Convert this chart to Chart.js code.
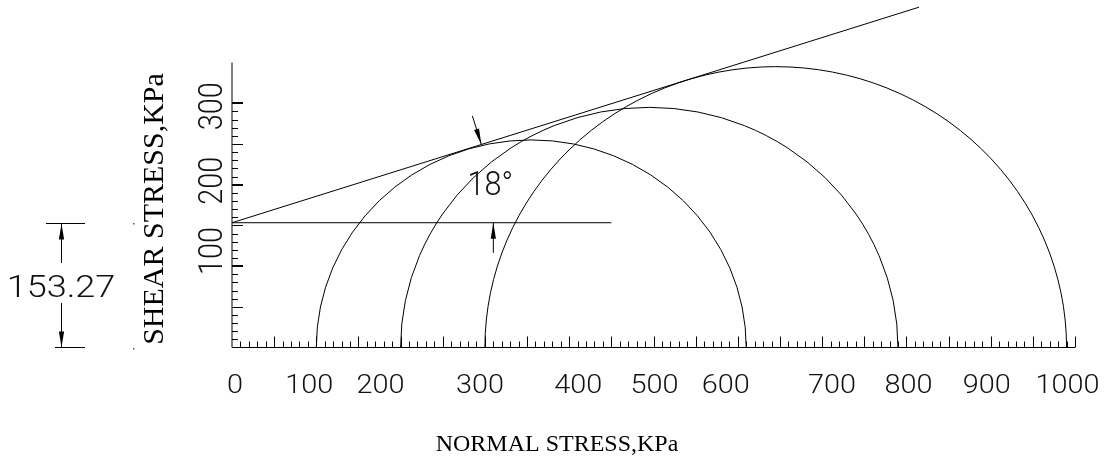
<!DOCTYPE html>
<html>
<head>
<meta charset="utf-8">
<script src="https://cdn.jsdelivr.net/npm/chart.js@4/dist/chart.umd.min.js"></script>
<style>
  html, body { margin: 0; padding: 0; background: #fff; }
  canvas { display: block; }
</style>
</head>
<body>
<canvas id="mohr" width="1110" height="463"></canvas>
<script>
// Triaxial test results: minor and major principal stresses (kPa)
const sigma3 = [100, 200, 300];
const sigma1 = [610, 790, 990];

// Mohr–Coulomb failure envelope
const cohesion = 153.27;      // kPa
const frictionDeg = 18;       // degrees
const envelopeEnd = 815;      // normal stress where the envelope line stops
const baseLineEnd = 450;      // end of the horizontal line drawn at the cohesion level
const angleArcRadius = 310;   // radius of the angle dimension, in normal-stress units

// Axes
const xTickValues = [0, 100, 200, 300, 400, 500, 600, 700, 800, 900, 1000];
const xTickLabels = ['0', '100', '200', '300', '400', '500', '600', '700', '800', '900', '1000'];
const yTickValues = [100, 200, 300];
const yTickLabels = ['100', '200', '300'];
const xAxisMax = 1000;
const yAxisMax = 350;
const yTickMax = 300;
const xTitle = 'NORMAL STRESS,KPa';
const yTitle = 'SHEAR STRESS,KPa';

// Drawing layout (pixels)
const layout = {
  axisLabelY: 384,          // centre line of the normal-stress labels
  xLabelNudge: [3, -7, -20, -5, 9, 1, -12, 10, 2, -4, -7.5],
  yLabelX: 210,             // centre line of the shear-stress labels
  yLabelNudge: [-15, -4, 3],
  minorTick: 6,
  majorTick: 11,
  dimLineX: 61,
  dimExtTop: [46, 85],
  dimExtBottom: [55, 85],
  dimTextCentreY: 286,
  dimGap: [263, 303],
  dotX: 133,
  yTitleBaselineX: 163,
  yTitleCentreY: 209,
  xTitleBaselineY: 451,
  xTitleCentreX: 557
};

const tanPhi = Math.tan(frictionDeg * Math.PI / 180);
const CAD_FONT = 'Roboto, "DejaVu Sans", sans-serif';
const SERIF = '"Liberation Serif", "Times New Roman", serif';

// Thin CAD-style text, sized by digit height and per-character advance
function cadText(ctx, str, cx, cy, h, adv, rot) {
  const size = h / 0.711;
  ctx.save();
  ctx.font = `300 ${size}px ${CAD_FONT}`;
  const sx = adv / ctx.measureText('0').width;
  ctx.translate(cx, cy);
  ctx.rotate(rot);
  ctx.scale(sx, 1);
  ctx.textAlign = 'center';
  ctx.textBaseline = 'alphabetic';
  ctx.fillStyle = '#111';
  ctx.fillText(str, 0, h / 2);
  ctx.restore();
}

// Line with a filled arrowhead at the tip
function arrow(ctx, tailX, tailY, tipX, tipY, headLen, headHalf) {
  const dx = tipX - tailX, dy = tipY - tailY;
  const len = Math.hypot(dx, dy);
  const ux = dx / len, uy = dy / len;
  ctx.beginPath();
  ctx.moveTo(tailX, tailY);
  ctx.lineTo(tipX, tipY);
  ctx.stroke();
  const bx = tipX - ux * headLen, by = tipY - uy * headLen;
  ctx.beginPath();
  ctx.moveTo(tipX, tipY);
  ctx.lineTo(bx - uy * headHalf, by + ux * headHalf);
  ctx.lineTo(bx + uy * headHalf, by - ux * headHalf);
  ctx.closePath();
  ctx.fill();
}

const mohrDrawing = {
  id: 'mohrDrawing',
  afterDatasetsDraw(chart) {
    const ctx = chart.ctx;
    const xs = chart.scales.x, ys = chart.scales.y;
    const px = v => xs.getPixelForValue(v);
    const py = v => ys.getPixelForValue(v);
    const x0 = px(0), y0 = py(0);

    ctx.save();
    ctx.strokeStyle = '#000';
    ctx.fillStyle = '#000';
    ctx.lineWidth = 1;

    // Mohr circles (upper halves)
    sigma3.forEach((s3, i) => {
      const s1 = sigma1[i];
      const c = (s1 + s3) / 2, r = (s1 - s3) / 2;
      const cx = px(c);
      const rx = px(c + r) - cx;
      const ry = y0 - py(r);
      ctx.beginPath();
      ctx.ellipse(cx, y0, rx, ry, 0, Math.PI, 2 * Math.PI);
      ctx.stroke();
    });

    // Axis lines
    const yAxisX = Math.round(x0);
    ctx.beginPath();
    ctx.moveTo(yAxisX, y0);
    ctx.lineTo(yAxisX, py(yAxisMax));
    ctx.stroke();
    ctx.beginPath();
    ctx.moveTo(x0, y0);
    ctx.lineTo(px(xAxisMax), y0);
    ctx.stroke();

    // Ticks on the normal-stress axis (every 10, long every 50)
    for (let v = 10; v <= xAxisMax; v += 10) {
      const x = Math.round(px(v)) + 0.5;
      const len = v % 50 === 0 ? layout.majorTick : layout.minorTick;
      ctx.beginPath();
      ctx.moveTo(x, y0);
      ctx.lineTo(x, y0 - len);
      ctx.stroke();
    }
    // Ticks on the shear-stress axis
    for (let v = 10; v <= yTickMax; v += 10) {
      const len = v % 50 === 0 ? layout.majorTick : layout.minorTick;
      ctx.lineWidth = v % 100 === 0 ? 2 : 1;
      const y = v % 100 === 0 ? Math.round(py(v)) : Math.round(py(v)) + 0.5;
      ctx.beginPath();
      ctx.moveTo(yAxisX, y);
      ctx.lineTo(yAxisX + len, y);
      ctx.stroke();
    }
    ctx.lineWidth = 1;

    // Tick labels
    xTickValues.forEach((v, i) => {
      cadText(ctx, xTickLabels[i], px(v) + layout.xLabelNudge[i], layout.axisLabelY, 18, 16, 0);
    });
    yTickValues.forEach((v, i) => {
      cadText(ctx, yTickLabels[i], layout.yLabelX, py(v) + layout.yLabelNudge[i], 23, 16, -Math.PI / 2);
    });

    // Angle dimension between the horizontal line and the envelope
    const vy = py(cohesion);
    const R = px(angleArcRadius) - x0;
    const ex = px(envelopeEnd) - x0;
    const ey = py(cohesion + envelopeEnd * tanPhi) - vy;
    const theta = Math.atan2(-ey, ex);
    const L = 30;
    // lower arrow, onto the horizontal line
    const t0x = x0 + R, t0y = vy;
    arrow(ctx, t0x, t0y + L, t0x, t0y, 16, 2.6);
    // upper arrow, onto the envelope
    const t1x = x0 + R * Math.cos(theta), t1y = vy - R * Math.sin(theta);
    arrow(ctx, t1x - L * Math.sin(theta), t1y - L * Math.cos(theta), t1x, t1y, 16, 2.6);
    const mid = theta / 2;
    cadText(ctx, frictionDeg + '°', x0 + R * Math.cos(mid), vy - R * Math.sin(mid), 23, 17, 0);

    // Cohesion dimension at the left
    ctx.beginPath();
    ctx.moveTo(layout.dimExtTop[0], Math.round(vy) + 0.5);
    ctx.lineTo(layout.dimExtTop[1], Math.round(vy) + 0.5);
    ctx.moveTo(layout.dimExtBottom[0], y0);
    ctx.lineTo(layout.dimExtBottom[1], y0);
    ctx.stroke();
    const dx = layout.dimLineX + 0.5;
    arrow(ctx, dx, layout.dimGap[0], dx, Math.round(vy) + 0.5, 16, 2.6);
    arrow(ctx, dx, layout.dimGap[1], dx, y0, 16, 2.6);
    cadText(ctx, cohesion.toFixed(2), layout.dimLineX, layout.dimTextCentreY, 22, 20, 0);
    ctx.fillStyle = '#555';
    ctx.fillRect(layout.dotX, Math.round(vy), 1.5, 1.5);
    ctx.fillRect(layout.dotX, Math.round(y0), 1.5, 1.5);

    // Axis titles
    ctx.fillStyle = '#000';
    ctx.font = `30px ${SERIF}`;
    ctx.textAlign = 'center';
    ctx.textBaseline = 'alphabetic';
    ctx.save();
    ctx.translate(layout.yTitleBaselineX, layout.yTitleCentreY);
    ctx.rotate(-Math.PI / 2);
    ctx.fillText(yTitle, 0, 0);
    ctx.restore();
    ctx.font = `24px ${SERIF}`;
    ctx.fillText(xTitle, layout.xTitleCentreX, layout.xTitleBaselineY);

    ctx.restore();
  }
};

new Chart(document.getElementById('mohr'), {
  type: 'scatter',
  data: {
    datasets: [
      {
        label: 'Failure envelope',
        data: [
          { x: 0, y: cohesion },
          { x: envelopeEnd, y: cohesion + envelopeEnd * tanPhi }
        ],
        showLine: true,
        borderColor: '#000',
        borderWidth: 1,
        pointRadius: 0,
        clip: false
      },
      {
        label: 'Cohesion level',
        data: [
          { x: 0, y: cohesion },
          { x: baseLineEnd, y: cohesion }
        ],
        showLine: true,
        borderColor: '#000',
        borderWidth: 1,
        pointRadius: 0,
        clip: false
      }
    ]
  },
  options: {
    responsive: false,
    devicePixelRatio: 1,
    animation: false,
    layout: { padding: { left: 232, right: 35, top: 5.6, bottom: 115.5 } },
    scales: {
      x: { type: 'linear', min: 0, max: 1000, display: false },
      y: { type: 'linear', min: 0, max: 420, display: false }
    },
    plugins: {
      legend: { display: false },
      tooltip: { enabled: false }
    }
  },
  plugins: [mohrDrawing]
});
</script>
</body>
</html>
